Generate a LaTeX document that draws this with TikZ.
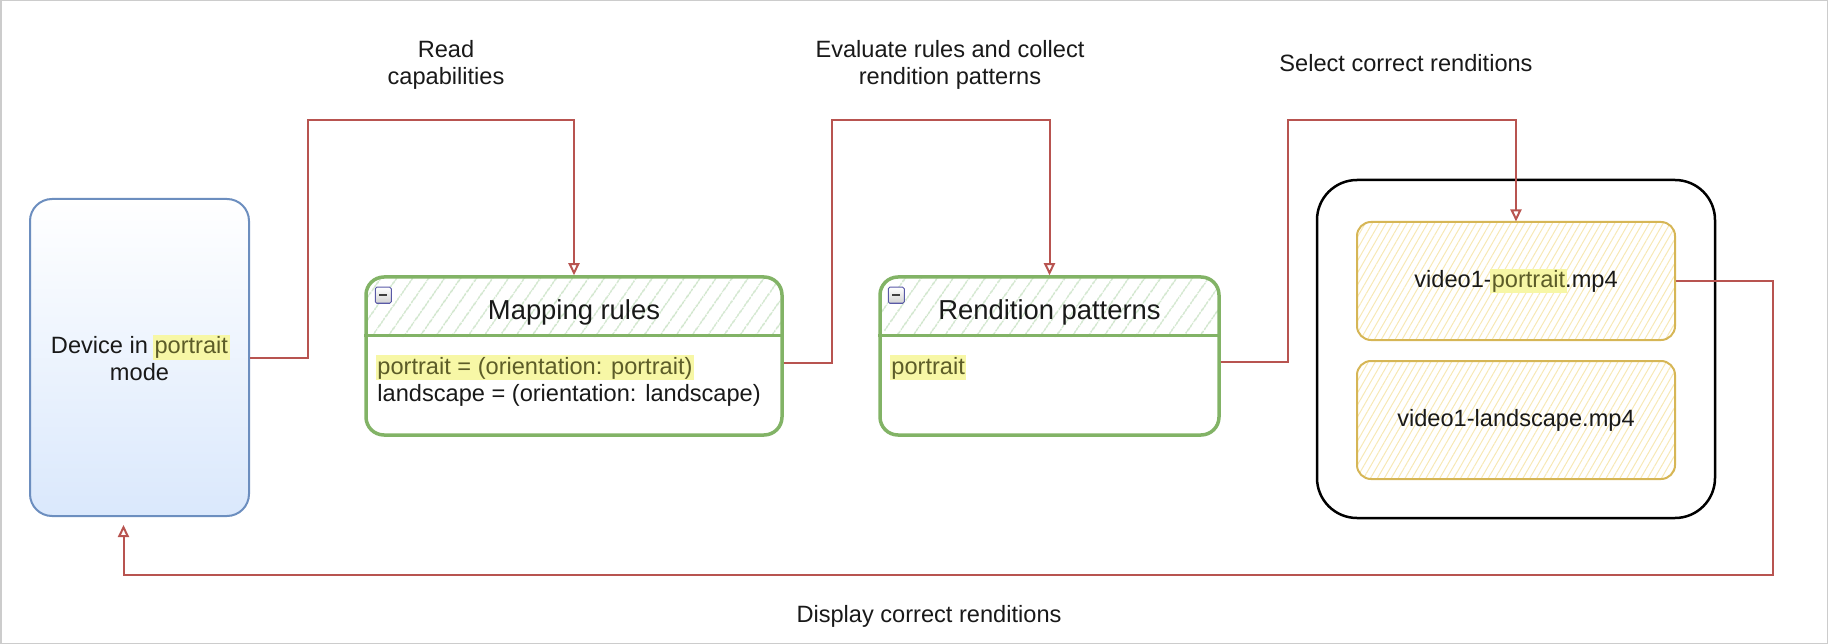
\documentclass[tikz,border=0pt]{standalone}
\usepackage{fontspec}
\setmainfont{Liberation Sans}
\usetikzlibrary{arrows.meta, patterns.meta, calc}

\definecolor{flowred}{HTML}{B85450}
\definecolor{lanegreen}{HTML}{82B366}
\definecolor{lanehatch}{HTML}{CFE5CB}
\definecolor{devblue}{HTML}{6C8EBF}
\definecolor{devfill}{HTML}{DAE8FC}
\definecolor{vidgold}{HTML}{D6B656}
\definecolor{vidhatch}{HTML}{F7E8B4}
\definecolor{hlyellow}{HTML}{F7F7A6}
\definecolor{hltext}{HTML}{5C5C28}

\newcommand\hlword[1]{{\setlength{\fboxsep}{1.5pt}\kern-1.5pt\colorbox{hlyellow}{\color{hltext}#1}\kern-1.5pt}}

\begin{document}
\begin{tikzpicture}[x=1pt, y=-1pt,
    every node/.style={font=\fontsize{23.6}{27}\selectfont, text=black!90},
    device/.style={draw=devblue, line width=2pt, rounded corners=22pt, top color=white, bottom color=devfill,
        minimum width=219pt, minimum height=317pt, align=center},
    lane/.style={draw=lanegreen, line width=3.5pt, rounded corners=18pt, minimum width=#1, minimum height=158pt, inner sep=0pt,
        path picture={\fill[pattern={Lines[angle=55, distance=13pt, line width=1.5pt]}, pattern color=lanehatch]
            (path picture bounding box.north west) rectangle ([yshift=-60pt]path picture bounding box.north east);}},
    lanetitle/.style={font=\fontsize{27.4}{30}\selectfont},
    lanebody/.style={anchor=north west, align=left, inner sep=0pt},
    icon/.style={draw=gray!70!blue, line width=1pt, top color=white, bottom color=gray!35, rounded corners=1.5pt},
    video/.style={draw=vidgold, line width=2pt, rounded corners=14pt, minimum width=318pt, minimum height=118pt,
        pattern={Lines[angle=60, distance=6pt, line width=1pt]}, pattern color=vidhatch},
    flow/.style={draw=flowred, line width=2pt, -{Triangle[open, length=12pt, width=11pt]}},
    lbl/.style={align=center}]
    \useasboundingbox (0,0) rectangle (1828,644);
    \draw[gray!40, line width=1.5pt] (0.75,0.75) rectangle (1827.25,643.25);

    \node[device] (device) at (139.5,357.5) {Device in \hlword{portrait}\\mode};

    \node[lane=416pt] (maprules) at (574,356) {};
    \draw[lanegreen, line width=3.5pt] ($(maprules.north west)+(0,60)$) -- ($(maprules.north east)+(0,60)$);
    \draw[icon] ($(maprules.north west)+(11,12)$) rectangle ++(16,16);
    \draw[black!75, line width=2pt] ($(maprules.north west)+(15,20)$) -- ++(8,0);
    \node[lanetitle] (maptitle) at ($(maprules.north)+(0,37)$) {Mapping rules};
    \node[lanebody] (maptext) at ($(maprules.north west)+(13,80)$)
        {\hlword{portrait = (orientation: portrait)}\\landscape = (orientation: landscape)};

    \node[lane=339pt] (rendpat) at (1049.5,356) {};
    \draw[lanegreen, line width=3.5pt] ($(rendpat.north west)+(0,60)$) -- ($(rendpat.north east)+(0,60)$);
    \draw[icon] ($(rendpat.north west)+(10,12)$) rectangle ++(16,16);
    \draw[black!75, line width=2pt] ($(rendpat.north west)+(14,20)$) -- ++(8,0);
    \node[lanetitle] (rendtitle) at ($(rendpat.north)+(0,37)$) {Rendition patterns};
    \node[lanebody] (rendtext) at ($(rendpat.north west)+(13,80)$) {\hlword{portrait}};

    \node[draw, line width=2.5pt, rounded corners=40pt, minimum width=398pt, minimum height=338pt] (shelf) at (1516,349) {};
    \node[video] (vidport) at (1516,281) {video1-\hlword{portrait}.mp4};
    \node[video] (vidland) at (1516,420) {video1-landscape.mp4};

    \node[lbl] (readlbl) at (446,64.5) {Read\\capabilities};
    \node[lbl] (evallbl) at (950,64.5) {Evaluate rules and collect\\rendition patterns};
    \node[lbl] (selectlbl) at (1406,63) {Select correct renditions};
    \node[lbl] (displaylbl) at (929,616) {Display correct renditions};

    \coordinate (readbend) at (308,120);
    \coordinate (evalbend) at (832,120);
    \coordinate (selectbend) at (1288,120);
    \coordinate (displaybend) at (1773,575);
    \draw[flow] (device.east) -| (readbend) -| (maprules.north);
    \draw[flow] ([yshift=-7pt]maprules.east) -| (evalbend) -| (rendpat.north);
    \draw[flow] ([yshift=-6pt]rendpat.east) -| (selectbend) -| (vidport.north);
    \draw[flow, shorten >=8pt] (vidport.east) -| (displaybend) -| ([xshift=-16pt]device.south);
\end{tikzpicture}
\end{document}
